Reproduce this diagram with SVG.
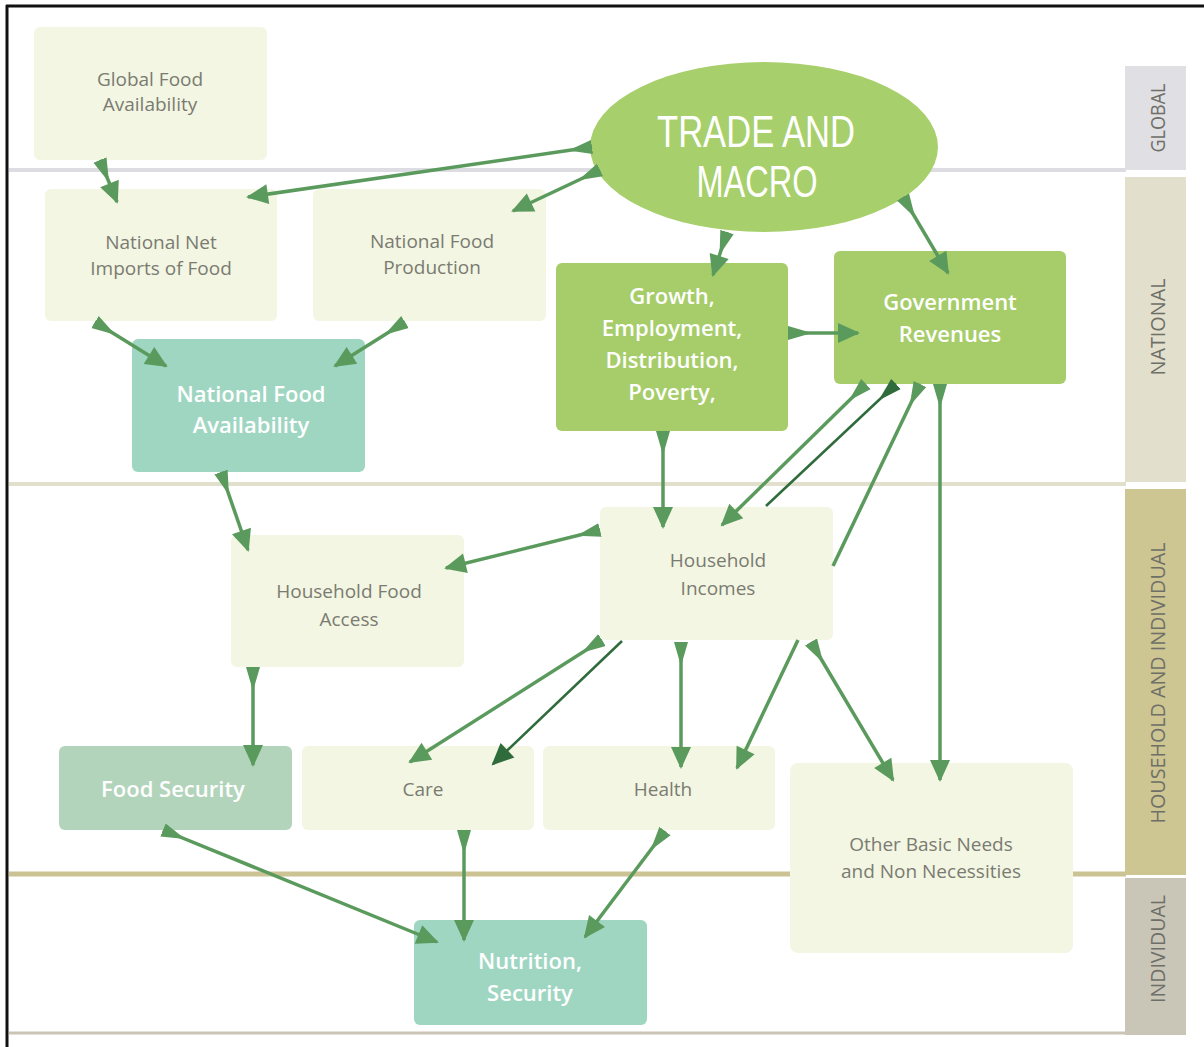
<svg xmlns="http://www.w3.org/2000/svg" width="1204" height="1047" viewBox="0 0 1204 1047">
<style>
.light{fill:#f2f6e2}
.green{fill:#a6cd6a}
.teal{fill:#9fd6c2}
.fs{fill:#b2d4bb}
.t{font-family:"Open Sans","Noto Sans",sans-serif;font-size:19px;fill:#7b7b72;text-anchor:middle}
.w{font-family:"Open Sans","Noto Sans",sans-serif;font-size:22px;font-weight:600;fill:#ffffff;text-anchor:middle}
.band{font-family:"Open Sans","Noto Sans",sans-serif;font-size:20px;fill:#6f6f68;text-anchor:middle}
.big{font-family:"Liberation Sans",Arial,sans-serif;font-size:44px;fill:#ffffff;text-anchor:middle}
.c{fill:none;stroke:#5b9a5d;stroke-width:3.5}
.d{fill:none;stroke:#2f6b3b;stroke-width:2.5}
</style>
<defs>
<marker id="head" markerUnits="userSpaceOnUse" markerWidth="24" markerHeight="24" viewBox="0 -12 22 24" refX="20" refY="0" orient="auto"><path d="M0,-10 L22,0 L0,10 z" fill="#5b9a5d"/></marker>
<marker id="tail" markerUnits="userSpaceOnUse" markerWidth="26" markerHeight="16" viewBox="0 -8 26 16" refX="0" refY="0" orient="auto"><path d="M0,-7 L24,0 L0,7 z" fill="#5b9a5d"/></marker>
<marker id="dhead" markerUnits="userSpaceOnUse" markerWidth="24" markerHeight="24" viewBox="0 -12 22 24" refX="20" refY="0" orient="auto"><path d="M0,-10 L22,0 L0,10 z" fill="#2f6b3b"/></marker>
<marker id="dtail" markerUnits="userSpaceOnUse" markerWidth="26" markerHeight="16" viewBox="0 -8 26 16" refX="0" refY="0" orient="auto"><path d="M0,-7 L24,0 L0,7 z" fill="#2f6b3b"/></marker>
</defs>
<rect x="0" y="0" width="1204" height="1047" fill="#ffffff"/>
<g id="frame">
<line x1="6" y1="6" x2="1204" y2="6" stroke="#111" stroke-width="3"/>
<line x1="7" y1="5" x2="7" y2="1047" stroke="#111" stroke-width="3"/>
</g>
<g id="bands">
<line x1="9" y1="170" x2="1126" y2="170" stroke="#dcdce2" stroke-width="4"/>
<line x1="9" y1="484" x2="1126" y2="484" stroke="#e1e0cd" stroke-width="4"/>
<line x1="9" y1="874" x2="1126" y2="874" stroke="#cbc393" stroke-width="5"/>
<line x1="9" y1="1033" x2="1126" y2="1033" stroke="#c9c5b5" stroke-width="3"/>
<rect x="1125" y="66" width="61" height="104" fill="#e0e0e4"/>
<rect x="1125" y="177" width="61" height="305" fill="#e2e0cc"/>
<rect x="1125" y="489" width="61" height="386" fill="#cdc592"/>
<rect x="1125" y="878" width="61" height="157" fill="#c9c6b8"/>
<text class="band" transform="translate(1165,118) rotate(-90)" textLength="69" lengthAdjust="spacingAndGlyphs">GLOBAL</text>
<text class="band" transform="translate(1165,327) rotate(-90)" textLength="97" lengthAdjust="spacingAndGlyphs">NATIONAL</text>
<text class="band" transform="translate(1165,683) rotate(-90)" textLength="281" lengthAdjust="spacingAndGlyphs">HOUSEHOLD AND INDIVIDUAL</text>
<text class="band" transform="translate(1165,949) rotate(-90)" textLength="108" lengthAdjust="spacingAndGlyphs">INDIVIDUAL</text>
</g>
<g id="nodes">
<g id="global-food-availability"><rect class="light" x="34" y="27" width="233" height="133" rx="6"/><text class="t" x="150" y="86">Global Food</text><text class="t" x="150" y="111">Availability</text></g>
<g id="national-net-imports"><rect class="light" x="45" y="189" width="232" height="132" rx="6"/><text class="t" x="161" y="249">National Net</text><text class="t" x="161" y="275">Imports of Food</text></g>
<g id="national-food-production"><rect class="light" x="313" y="189" width="233" height="132" rx="6"/><text class="t" x="432" y="248">National Food</text><text class="t" x="432" y="274">Production</text></g>
<g id="trade-and-macro"><ellipse cx="764" cy="147" rx="174" ry="85" fill="#a7cf6b"/><text class="big" x="756" y="147" textLength="198" lengthAdjust="spacingAndGlyphs">TRADE AND</text><text class="big" x="757" y="197" textLength="121" lengthAdjust="spacingAndGlyphs">MACRO</text></g>
<g id="growth"><rect class="green" x="556" y="263" width="232" height="168" rx="6"/><text class="w" x="672" y="304">Growth,</text><text class="w" x="672" y="336">Employment,</text><text class="w" x="672" y="368">Distribution,</text><text class="w" x="672" y="400">Poverty,</text></g>
<g id="government-revenues"><rect class="green" x="834" y="251" width="232" height="133" rx="6"/><text class="w" x="950" y="310">Government</text><text class="w" x="950" y="342">Revenues</text></g>
<g id="national-food-availability"><rect class="teal" x="132" y="339" width="233" height="133" rx="6"/><text class="w" x="251" y="402">National Food</text><text class="w" x="251" y="433">Availability</text></g>
<g id="household-food-access"><rect class="light" x="231" y="535" width="233" height="132" rx="6"/><text class="t" x="349" y="598">Household Food</text><text class="t" x="349" y="626">Access</text></g>
<g id="household-incomes"><rect class="light" x="600" y="507" width="233" height="133" rx="6"/><text class="t" x="718" y="567">Household</text><text class="t" x="718" y="595">Incomes</text></g>
<g id="food-security"><rect class="fs" x="59" y="746" width="233" height="84" rx="6"/><text class="w" x="173" y="797">Food Security</text></g>
<g id="care"><rect class="light" x="302" y="746" width="232" height="84" rx="6"/><text class="t" x="423" y="796">Care</text></g>
<g id="health"><rect class="light" x="543" y="746" width="232" height="84" rx="6"/><text class="t" x="663" y="796">Health</text></g>
<g id="other-basic-needs"><rect class="light" x="790" y="763" width="283" height="190" rx="8"/><text class="t" x="931" y="851">Other Basic Needs</text><text class="t" x="931" y="878">and Non Necessities</text></g>
<g id="nutrition-security"><rect class="teal" x="414" y="920" width="233" height="105" rx="6"/><text class="w" x="530" y="969">Nutrition,</text><text class="w" x="530" y="1001">Security</text></g>
</g>
<g id="connectors">
<path class="c" d="M100,160 L117,202" marker-start="url(#tail)" marker-end="url(#head)"/>
<path class="c" d="M592,147 L248,197" marker-start="url(#tail)" marker-end="url(#head)"/>
<path class="c" d="M600,170 L513,211" marker-start="url(#tail)" marker-end="url(#head)"/>
<path class="c" d="M727,232 L713,275" marker-start="url(#tail)" marker-end="url(#head)"/>
<path class="c" d="M903,197 L948,273" marker-start="url(#tail)" marker-end="url(#head)"/>
<path class="c" d="M788,333 L858,333" marker-start="url(#tail)" marker-end="url(#head)"/>
<path class="c" d="M95,322 L166,366" marker-start="url(#tail)" marker-end="url(#head)"/>
<path class="c" d="M405,322 L335,366" marker-start="url(#tail)" marker-end="url(#head)"/>
<path class="c" d="M221,472 L248,550" marker-start="url(#tail)" marker-end="url(#head)"/>
<path class="c" d="M663,431 L663,527" marker-start="url(#tail)" marker-end="url(#head)"/>
<path class="c" d="M866,384 L722,525" marker-start="url(#tail)" marker-end="url(#head)"/>
<path class="d" d="M896,384 L766,506" marker-start="url(#dtail)"/>
<path class="d" d="M622,641 L493,764" marker-end="url(#dhead)"/>
<path class="c" d="M920,384 L833,566" marker-start="url(#tail)"/>
<path class="c" d="M798,640 L737,768" marker-end="url(#head)"/>
<path class="c" d="M940,384 L940,780" marker-start="url(#tail)" marker-end="url(#head)"/>
<path class="c" d="M600,530 L446,568" marker-start="url(#tail)" marker-end="url(#head)"/>
<path class="c" d="M602,640 L410,762" marker-start="url(#tail)" marker-end="url(#head)"/>
<path class="c" d="M681,642 L681,767" marker-start="url(#tail)" marker-end="url(#head)"/>
<path class="c" d="M811,642 L893,780" marker-start="url(#tail)" marker-end="url(#head)"/>
<path class="c" d="M253,667 L253,765" marker-start="url(#tail)" marker-end="url(#head)"/>
<path class="c" d="M163,830 L437,942" marker-start="url(#tail)" marker-end="url(#head)"/>
<path class="c" d="M464,830 L464,940" marker-start="url(#tail)" marker-end="url(#head)"/>
<path class="c" d="M665,831 L585,937" marker-start="url(#tail)" marker-end="url(#head)"/>
</g>
</svg>
